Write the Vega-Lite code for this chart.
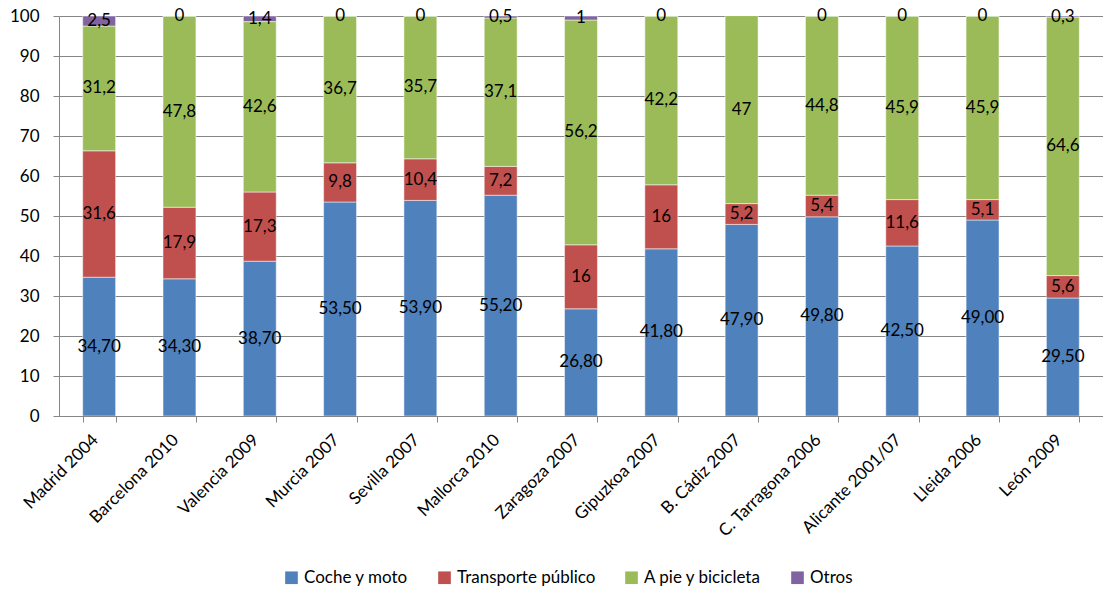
{
  "$schema": "https://vega.github.io/schema/vega-lite/v6.json",
  "width": 1044,
  "height": 400,
  "autosize": "none",
  "padding": {"left": 59, "top": 16, "right": 0, "bottom": 174},
  "background": "white",
  "config": {
    "locale": {"number": {"decimal": ",", "thousands": ".", "grouping": [3], "currency": ["", " €"]}},
    "font": "Lato",
    "view": {"stroke": null}
  },
  "data": {
    "values": [
      {"ciudad": "Madrid 2004", "serie": "Coche y moto", "orden": 1, "valor": 34.7},
      {"ciudad": "Madrid 2004", "serie": "Transporte público", "orden": 2, "valor": 31.6},
      {"ciudad": "Madrid 2004", "serie": "A pie y bicicleta", "orden": 3, "valor": 31.2},
      {"ciudad": "Madrid 2004", "serie": "Otros", "orden": 4, "valor": 2.5},
      {"ciudad": "Barcelona 2010", "serie": "Coche y moto", "orden": 1, "valor": 34.3},
      {"ciudad": "Barcelona 2010", "serie": "Transporte público", "orden": 2, "valor": 17.9},
      {"ciudad": "Barcelona 2010", "serie": "A pie y bicicleta", "orden": 3, "valor": 47.8},
      {"ciudad": "Barcelona 2010", "serie": "Otros", "orden": 4, "valor": 0},
      {"ciudad": "Valencia 2009", "serie": "Coche y moto", "orden": 1, "valor": 38.7},
      {"ciudad": "Valencia 2009", "serie": "Transporte público", "orden": 2, "valor": 17.3},
      {"ciudad": "Valencia 2009", "serie": "A pie y bicicleta", "orden": 3, "valor": 42.6},
      {"ciudad": "Valencia 2009", "serie": "Otros", "orden": 4, "valor": 1.4},
      {"ciudad": "Murcia 2007", "serie": "Coche y moto", "orden": 1, "valor": 53.5},
      {"ciudad": "Murcia 2007", "serie": "Transporte público", "orden": 2, "valor": 9.8},
      {"ciudad": "Murcia 2007", "serie": "A pie y bicicleta", "orden": 3, "valor": 36.7},
      {"ciudad": "Murcia 2007", "serie": "Otros", "orden": 4, "valor": 0},
      {"ciudad": "Sevilla 2007", "serie": "Coche y moto", "orden": 1, "valor": 53.9},
      {"ciudad": "Sevilla 2007", "serie": "Transporte público", "orden": 2, "valor": 10.4},
      {"ciudad": "Sevilla 2007", "serie": "A pie y bicicleta", "orden": 3, "valor": 35.7},
      {"ciudad": "Sevilla 2007", "serie": "Otros", "orden": 4, "valor": 0},
      {"ciudad": "Mallorca 2010", "serie": "Coche y moto", "orden": 1, "valor": 55.2},
      {"ciudad": "Mallorca 2010", "serie": "Transporte público", "orden": 2, "valor": 7.2},
      {"ciudad": "Mallorca 2010", "serie": "A pie y bicicleta", "orden": 3, "valor": 37.1},
      {"ciudad": "Mallorca 2010", "serie": "Otros", "orden": 4, "valor": 0.5},
      {"ciudad": "Zaragoza 2007", "serie": "Coche y moto", "orden": 1, "valor": 26.8},
      {"ciudad": "Zaragoza 2007", "serie": "Transporte público", "orden": 2, "valor": 16},
      {"ciudad": "Zaragoza 2007", "serie": "A pie y bicicleta", "orden": 3, "valor": 56.2},
      {"ciudad": "Zaragoza 2007", "serie": "Otros", "orden": 4, "valor": 1},
      {"ciudad": "Gipuzkoa 2007", "serie": "Coche y moto", "orden": 1, "valor": 41.8},
      {"ciudad": "Gipuzkoa 2007", "serie": "Transporte público", "orden": 2, "valor": 16},
      {"ciudad": "Gipuzkoa 2007", "serie": "A pie y bicicleta", "orden": 3, "valor": 42.2},
      {"ciudad": "Gipuzkoa 2007", "serie": "Otros", "orden": 4, "valor": 0},
      {"ciudad": "B. Cádiz 2007", "serie": "Coche y moto", "orden": 1, "valor": 47.9},
      {"ciudad": "B. Cádiz 2007", "serie": "Transporte público", "orden": 2, "valor": 5.2},
      {"ciudad": "B. Cádiz 2007", "serie": "A pie y bicicleta", "orden": 3, "valor": 47},
      {"ciudad": "C. Tarragona 2006", "serie": "Coche y moto", "orden": 1, "valor": 49.8},
      {"ciudad": "C. Tarragona 2006", "serie": "Transporte público", "orden": 2, "valor": 5.4},
      {"ciudad": "C. Tarragona 2006", "serie": "A pie y bicicleta", "orden": 3, "valor": 44.8},
      {"ciudad": "C. Tarragona 2006", "serie": "Otros", "orden": 4, "valor": 0},
      {"ciudad": "Alicante 2001/07", "serie": "Coche y moto", "orden": 1, "valor": 42.5},
      {"ciudad": "Alicante 2001/07", "serie": "Transporte público", "orden": 2, "valor": 11.6},
      {"ciudad": "Alicante 2001/07", "serie": "A pie y bicicleta", "orden": 3, "valor": 45.9},
      {"ciudad": "Alicante 2001/07", "serie": "Otros", "orden": 4, "valor": 0},
      {"ciudad": "Lleida 2006", "serie": "Coche y moto", "orden": 1, "valor": 49.0},
      {"ciudad": "Lleida 2006", "serie": "Transporte público", "orden": 2, "valor": 5.1},
      {"ciudad": "Lleida 2006", "serie": "A pie y bicicleta", "orden": 3, "valor": 45.9},
      {"ciudad": "Lleida 2006", "serie": "Otros", "orden": 4, "valor": 0},
      {"ciudad": "León 2009", "serie": "Coche y moto", "orden": 1, "valor": 29.5},
      {"ciudad": "León 2009", "serie": "Transporte público", "orden": 2, "valor": 5.6},
      {"ciudad": "León 2009", "serie": "A pie y bicicleta", "orden": 3, "valor": 64.6},
      {"ciudad": "León 2009", "serie": "Otros", "orden": 4, "valor": 0.3}
    ]
  },
  "transform": [
    {"stack": "valor", "groupby": ["ciudad"], "sort": [{"field": "orden", "order": "ascending"}], "as": ["v0", "v1"]}
  ],
  "resolve": {"axis": {"y": "independent"}},
  "encoding": {
    "x": {
      "field": "ciudad",
      "type": "nominal",
      "sort": null,
      "title": null,
      "scale": {"paddingInner": 0.59, "paddingOuter": 0.295},
      "axis": {
        "labelAngle": -45,
        "labelAlign": "right",
        "labelBaseline": "middle",
        "labelFontSize": 17,
        "labelColor": "#000000",
        "labelOffset": -4,
        "labelPadding": 15,
        "tickBand": "extent",
        "tickSize": 6,
        "tickColor": "#868686",
        "domainColor": "#868686",
        "grid": false
      }
    }
  },
  "layer": [
    {
      "mark": {"type": "bar", "clip": true},
      "encoding": {
        "y": {
          "field": "v0",
          "type": "quantitative",
          "title": null,
          "scale": {"domain": [0, 100], "nice": false},
          "axis": {
            "values": [0, 10, 20, 30, 40, 50, 60, 70, 80, 90, 100],
            "labelFontSize": 17,
            "labelColor": "#000000",
            "labelPadding": 14,
            "labelOverlap": false,
            "tickSize": 6,
            "tickColor": "#868686",
            "domainColor": "#868686",
            "gridColor": "#868686",
            "gridOpacity": 1
          }
        },
        "y2": {"field": "v1"},
        "color": {
          "field": "serie",
          "type": "nominal",
          "scale": {
            "domain": ["Coche y moto", "Transporte público", "A pie y bicicleta", "Otros"],
            "range": ["#4F81BD", "#C0504D", "#9BBB59", "#8064A2"]
          },
          "legend": {
            "title": null,
            "orient": "none",
            "direction": "horizontal",
            "legendX": 224,
            "legendY": 553,
            "symbolType": "square",
            "symbolSize": 160,
            "symbolStrokeWidth": 0,
            "labelFontSize": 17,
            "labelColor": "#000000",
            "labelOffset": 4,
            "columnPadding": 27
          }
        },
        "stroke": {"value": "#ffffff"},
        "strokeWidth": {"value": 0.5}
      }
    },
    {
      "transform": [
        {"fold": ["v0", "v1"], "as": ["extremo", "pos"]},
        {"aggregate": [{"op": "mean", "field": "pos", "as": "medio"}, {"op": "max", "field": "valor", "as": "valor"}], "groupby": ["ciudad", "serie"]},
        {"filter": "datum.serie === 'Coche y moto'"}
      ],
      "mark": {"type": "text", "fontSize": 17, "color": "#000000", "baseline": "middle"},
      "encoding": {
        "y": {"field": "medio", "type": "quantitative", "axis": null},
        "text": {"field": "valor", "type": "quantitative", "format": ".2f"}
      }
    },
    {
      "transform": [
        {"fold": ["v0", "v1"], "as": ["extremo", "pos"]},
        {"aggregate": [{"op": "mean", "field": "pos", "as": "medio"}, {"op": "max", "field": "valor", "as": "valor"}], "groupby": ["ciudad", "serie"]},
        {"filter": "datum.serie !== 'Coche y moto'"}
      ],
      "mark": {"type": "text", "fontSize": 17, "color": "#000000", "baseline": "middle"},
      "encoding": {
        "y": {"field": "medio", "type": "quantitative", "axis": null},
        "text": {"field": "valor", "type": "quantitative", "format": "~r"}
      }
    }
  ]
}
